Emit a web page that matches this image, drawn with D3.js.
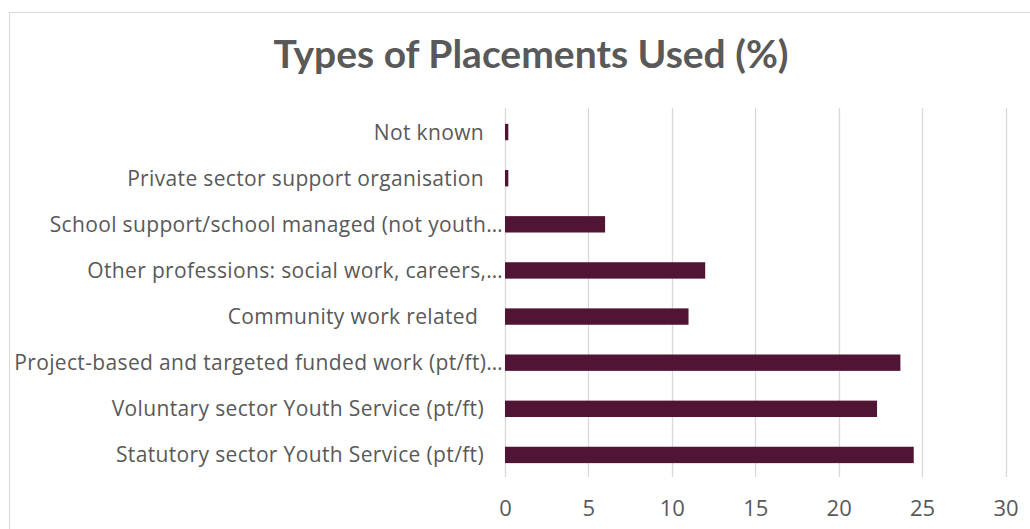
<!DOCTYPE html>
<html>
<head>
<meta charset="utf-8">
<script src="https://cdn.jsdelivr.net/npm/d3@7"></script>
<style>
  html, body { margin: 0; padding: 0; background: #ffffff; }
  svg { display: block; }
  text { white-space: pre; }
</style>
</head>
<body>
<svg id="chart" width="1030" height="529"></svg>
<script>
// Placement types, top to bottom as listed on the category axis
const categories = [
  "Not known",
  "Private sector support organisation",
  "School support/school managed (not youth…",
  "Other professions: social work, careers,…",
  "Community work related ",
  "Project-based and targeted funded work (pt/ft)…",
  "Voluntary sector Youth Service (pt/ft)",
  "Statutory sector Youth Service (pt/ft)"
];
// Share of placements (%) for each category above
const values = [0.2, 0.2, 6, 12, 11, 23.7, 22.3, 24.5];
const xTicks = [0, 5, 10, 15, 20, 25, 30];
const chartTitle = "Types of Placements Used (%)";

const data = categories.map((c, i) => ({ category: c, value: values[i] }));

const svg = d3.select("#chart");
const titleFont = "'Lato', 'Open Sans', sans-serif";
const bodyFont = "'Open Sans', 'Lato', sans-serif";
const textColor = "#595959";
const gridColor = "#d9d9d9";
const barColor = "#501534";

// Chart frame (continues beyond the visible window on the right and bottom)
svg.append("rect")
  .attr("x", 9.5).attr("y", 12.5)
  .attr("width", 1100).attr("height", 600)
  .attr("fill", "#ffffff")
  .attr("stroke", gridColor).attr("stroke-width", 1);

// Title
svg.append("text")
  .attr("x", 531).attr("y", 68)
  .attr("text-anchor", "middle")
  .attr("font-family", titleFont)
  .attr("font-weight", 700)
  .attr("font-size", 39)
  .attr("fill", textColor)
  .text(chartTitle);

const x = d3.scaleLinear().domain([0, 30]).range([505, 1005.5]);
const y = d3.scaleBand()
  .domain(categories)
  .range([109, 478])
  .paddingInner(0.645)
  .paddingOuter(0.3225);

const plotTop = 108, plotBottom = 477;

// Vertical gridlines
svg.append("g")
  .selectAll("line")
  .data(xTicks)
  .join("line")
  .attr("x1", d => Math.round(x(d)) + 0.5)
  .attr("x2", d => Math.round(x(d)) + 0.5)
  .attr("y1", plotTop).attr("y2", plotBottom)
  .attr("stroke", gridColor)
  .attr("stroke-width", 1.3);

// Bars
svg.append("g")
  .selectAll("rect")
  .data(data)
  .join("rect")
  .attr("x", x(0))
  .attr("y", d => y(d.category))
  .attr("width", d => x(d.value) - x(0))
  .attr("height", y.bandwidth())
  .attr("fill", barColor);

// X axis tick labels
const xAxis = d3.axisBottom(x).tickValues(xTicks).tickSize(0).tickPadding(0);
const gx = svg.append("g")
  .attr("transform", `translate(0, ${plotBottom + 23})`)
  .call(xAxis);
gx.select(".domain").remove();
gx.selectAll("text")
  .attr("font-family", bodyFont)
  .attr("font-size", 22)
  .attr("fill", textColor);

// Category labels (right-aligned beside the axis)
svg.append("g")
  .selectAll("text")
  .data(data)
  .join("text")
  .attr("x", d => d.category.endsWith("…") ? x(0) - 2 : x(0) - 21)
  .attr("y", d => y(d.category) + y.bandwidth() / 2)
  .attr("dy", "0.36em")
  .attr("text-anchor", "end")
  .attr("font-family", bodyFont)
  .attr("font-size", 21)
  .attr("letter-spacing", 0.35)
  .attr("fill", textColor)
  .text(d => d.category);
</script>
</body>
</html>
